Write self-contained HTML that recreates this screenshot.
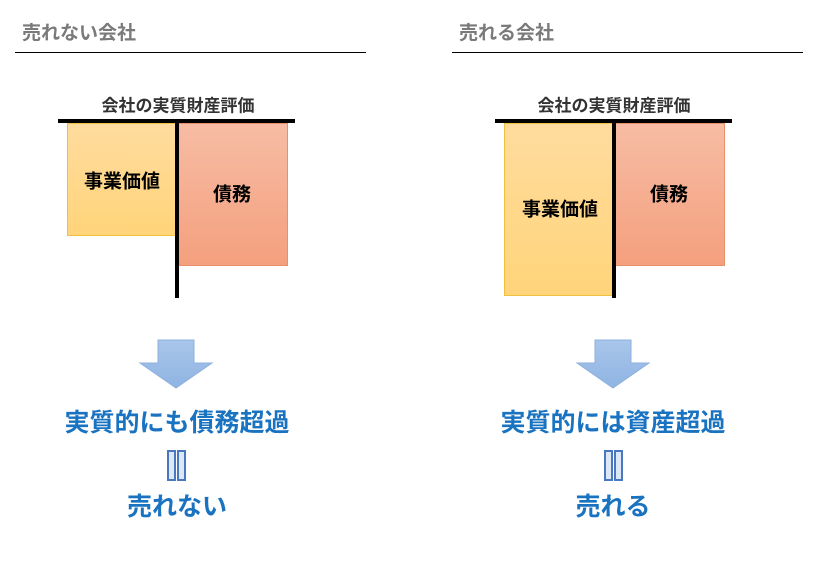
<!DOCTYPE html>
<html><head><meta charset="utf-8"><style>
body{margin:0;width:829px;height:569px;background:#fff;position:relative;overflow:hidden;font-family:"Liberation Sans","Noto Sans CJK JP",sans-serif;font-weight:bold}
.a{position:absolute}
.t{position:absolute;white-space:nowrap;transform:translate(-50%,-50%)}
.y{background:linear-gradient(#ffdc9e,#ffd47a);border:1px solid #f0c040;box-sizing:border-box}
.r{background:linear-gradient(#f7bca4,#f4a07e);border:1px solid #e8906a;box-sizing:border-box}
.k{background:#000}
.blue{color:#1a73c0;font-size:25px}
</style></head><body>
<div class="a" style="left:22px;top:22px;font-size:19px;color:#7a7a7a;line-height:24px">売れない会社</div>
<div class="a" style="left:15px;top:52px;width:351px;height:1px;background:#000"></div>
<div class="a" style="left:459px;top:22px;font-size:19px;color:#7a7a7a;line-height:24px">売れる会社</div>
<div class="a" style="left:452px;top:52px;width:351px;height:1px;background:#000"></div>

<div class="t" style="left:178px;top:104px;font-size:17px;color:#333">会社の実質財産評価</div>
<div class="a y" style="left:67px;top:123px;width:109px;height:113px"></div>
<div class="a r" style="left:178px;top:123px;width:110px;height:143px"></div>
<div class="a k" style="left:58px;top:119px;width:237px;height:4px"></div>
<div class="a k" style="left:175px;top:121px;width:4px;height:177px"></div>
<div class="t" style="left:122px;top:180px;font-size:19px">事業価値</div>
<div class="t" style="left:232px;top:193px;font-size:19px">債務</div>

<div class="t" style="left:614px;top:104px;font-size:17px;color:#333">会社の実質財産評価</div>
<div class="a y" style="left:504px;top:123px;width:109px;height:173px"></div>
<div class="a r" style="left:615px;top:123px;width:110px;height:143px"></div>
<div class="a k" style="left:495px;top:119px;width:237px;height:4px"></div>
<div class="a k" style="left:612px;top:121px;width:4px;height:177px"></div>
<div class="t" style="left:560px;top:208px;font-size:19px">事業価値</div>
<div class="t" style="left:669px;top:193px;font-size:19px">債務</div>

<svg class="a" style="left:0;top:0" width="829" height="569">
<defs><linearGradient id="g" x1="0" y1="0" x2="0" y2="1"><stop offset="0" stop-color="#a9c6ea"/><stop offset="1" stop-color="#8fb4e3"/></linearGradient></defs>
<polygon points="158,340 194,340 194,363 212,363 176,388 140,363 158,363" fill="url(#g)" stroke="#8eb0dc"/>
<polygon points="595,340 631,340 631,363 649,363 613,388 577,363 595,363" fill="url(#g)" stroke="#8eb0dc"/>
<g fill="#dde8f6" stroke="#4a78c0" stroke-width="2">
<rect x="168" y="451" width="7" height="29"/><rect x="178" y="451" width="7" height="29"/>
<rect x="605" y="451" width="7" height="29"/><rect x="615" y="451" width="7" height="29"/>
</g></svg>

<div class="t blue" style="left:177px;top:421px">実質的にも債務超過</div>
<div class="t blue" style="left:177px;top:505px">売れない</div>
<div class="t blue" style="left:613px;top:421px">実質的には資産超過</div>
<div class="t blue" style="left:613px;top:505px">売れる</div>
</body></html>
